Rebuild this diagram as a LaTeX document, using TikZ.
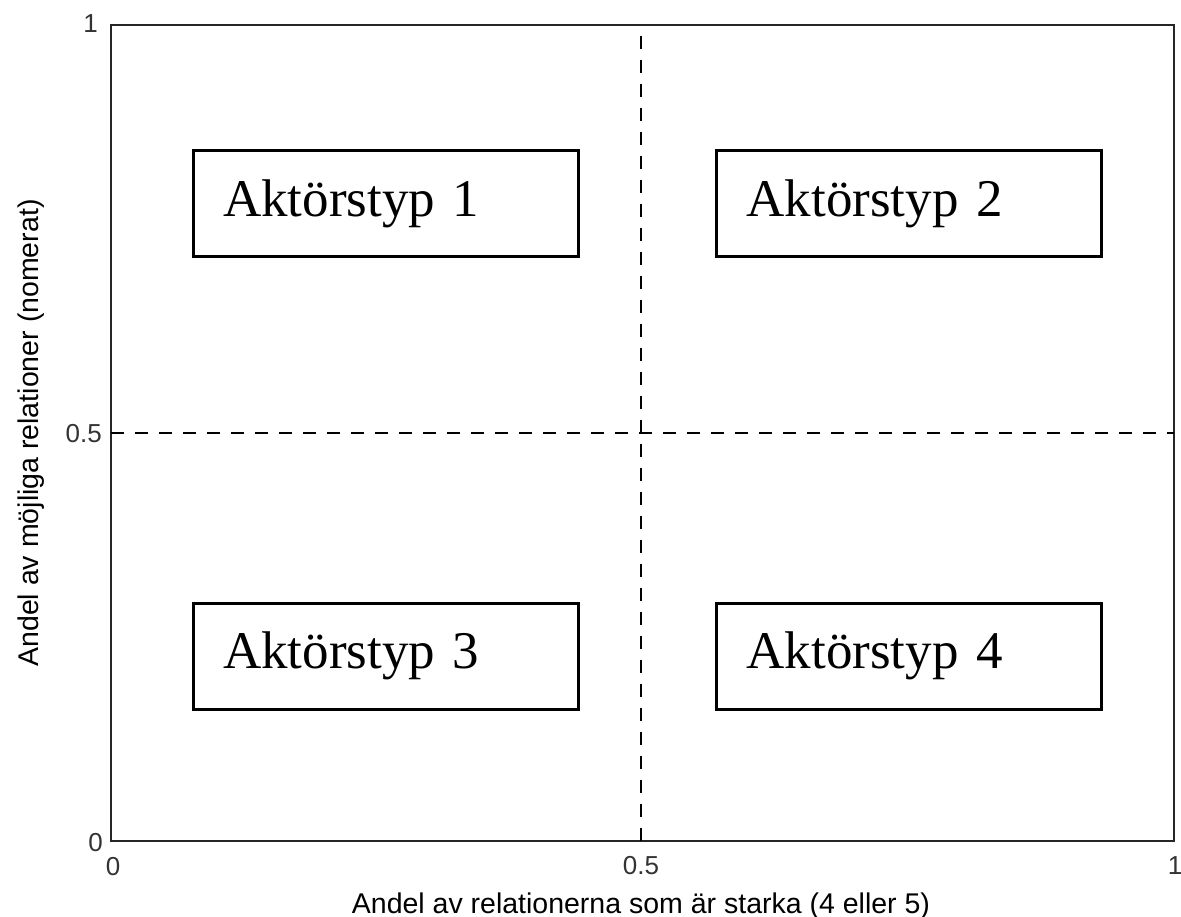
\documentclass[tikz,border=0pt]{standalone}
\usepackage{fontspec}
\setmainfont{Liberation Serif}
\setsansfont{Liberation Sans}
\begin{document}
\begin{tikzpicture}[x=1pt,y=-1pt,
  frame/.style={draw=black!85,line width=2pt},
  divider/.style={draw=black,line width=1.6pt,dash pattern=on 13pt off 11pt},
  typebox/.style={draw=black,line width=3pt,minimum width=385pt,minimum height=106pt,
    text width=325pt,align=left,inner sep=0pt,
    font=\fontsize{53}{60}\selectfont},
  ticklabel/.style={font=\sffamily\fontsize{26}{30}\selectfont,inner sep=0pt,text=black!80},
  axislabel/.style={font=\sffamily\fontsize{28.5}{32}\selectfont,inner sep=0pt}]
\useasboundingbox (0,0) rectangle (1181,917);

% plot frame
\coordinate (ll) at (111,841);
\coordinate (ur) at (1174,25);
\draw[frame] (ll) rectangle (ur);

% quadrant dividers at 0.5
\coordinate (xb) at (641,841);
\coordinate (xt) at (641,25);
\coordinate (yl) at (111,433);
\coordinate (yr) at (1174,433);
\draw[divider] (xb) -- (xt);
\draw[divider] (yl) -- (yr);
\draw[line width=1.6pt] (xb) -- ++(0,-9);

% actor-type boxes
\node[typebox] (t1) at (385.5,204) {Aktörstyp 1};
\node[typebox] (t2) at (909,204) {Aktörstyp 2};
\node[typebox] (t3) at (385.5,656) {Aktörstyp 3};
\node[typebox] (t4) at (909,656) {Aktörstyp 4};

% tick labels
\node[ticklabel,anchor=base east] (y1) at (98,33) {1};
\node[ticklabel,anchor=base east] (y5) at (102,442) {0.5};
\node[ticklabel,anchor=base east] (y0) at (103,851) {0};
\node[ticklabel,anchor=base] (x0) at (113,875) {0};
\node[ticklabel,anchor=base] (x5) at (641,874) {0.5};
\node[ticklabel,anchor=base] (x1) at (1175,874) {1};

% axis titles
\node[axislabel,anchor=base] (xlab) at (641,913) {Andel av relationerna som är starka (4 eller 5)};
\node[axislabel,anchor=base,rotate=90] (ylab) at (38,433) {Andel av möjliga relationer (nomerat)};
\end{tikzpicture}
\end{document}
